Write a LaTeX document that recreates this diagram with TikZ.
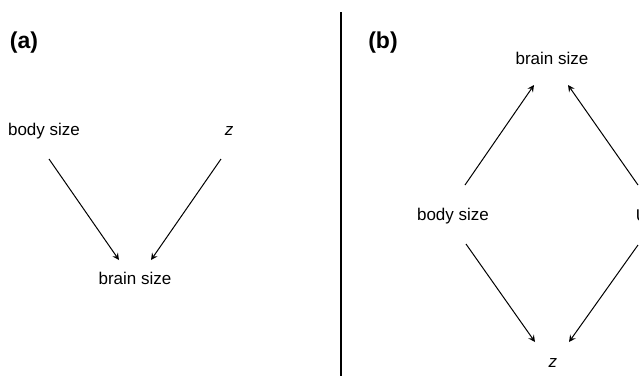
\documentclass[tikz,border=0pt]{standalone}
\usepackage{fontspec}
\setmainfont{Liberation Sans}
\usetikzlibrary{arrows.meta, positioning}

\begin{document}
\begin{tikzpicture}[x=0.5pt,y=-0.5pt,>=stealth,
  var/.style={font=\fontsize{8.5}{10}\selectfont,inner sep=0pt},
  panel/.style={font=\fontsize{11.5}{13}\selectfont\bfseries,inner sep=0pt},
  link/.style={->,line width=0.5pt}]
\useasboundingbox (0,0) rectangle (639,376);
% divider
\draw[line width=0.6pt] (341,12) -- (341,376);
% (a)
\node[panel] (pa) at (24,43) {(a)};
\node[var] (bodyA) at (44,131) {body size};
\node[var] (zA) at (229,131) {\textit{z}};
\node[var] (brainA) at (135,278) {brain size};
\draw[link] ([shift={(5,28)}]bodyA.center) -- ([shift={(-16,-18)}]brainA.center);
\draw[link] ([shift={(-8,28)}]zA.center) -- ([shift={(16,-18)}]brainA.center);
% (b)
\node[panel] (pb) at (383,43) {(b)};
\node[var] (brainB) at (552,58) {brain size};
\node[var] (bodyB) at (453,216) {body size};
\node[var] (U) at (642,216) {U};
\node[var] (zB) at (553,363) {\textit{z}};
\draw[link] ([shift={(12,-31)}]bodyB.center) -- ([shift={(-18,27)}]brainB.center);
\draw[link] ([shift={(-4,-31)}]U.center) -- ([shift={(16,27)}]brainB.center);
\draw[link] ([shift={(13,28)}]bodyB.center) -- ([shift={(-18,-21)}]zB.center);
\draw[link] ([shift={(-4,29)}]U.center) -- ([shift={(16,-21)}]zB.center);
\end{tikzpicture}
\end{document}
